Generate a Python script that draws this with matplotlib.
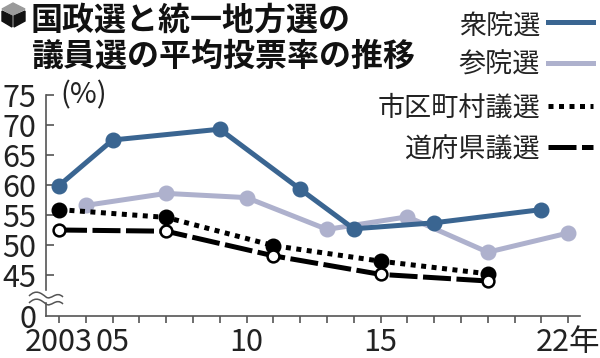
import matplotlib
matplotlib.use('Agg')
import matplotlib.pyplot as plt
from matplotlib.lines import Line2D
from matplotlib.patches import Polygon, PathPatch, Rectangle
from matplotlib.path import Path

plt.rcParams['font.family'] = ['Liberation Sans Narrow', 'Noto Sans CJK JP', 'DejaVu Sans']

W, H = 600, 358

shu_years = [2003, 2005, 2009, 2012, 2014, 2017, 2021]
shu_vals = [59.9, 67.5, 69.3, 59.3, 52.7, 53.7, 55.9]
san_years = [2004, 2007, 2010, 2013, 2016, 2019, 2022]
san_vals = [56.6, 58.6, 57.9, 52.6, 54.7, 48.8, 52.0]
local_years = [2003, 2007, 2011, 2015, 2019]
city_vals = [55.9, 54.6, 49.9, 47.3, 45.2]
pref_vals = [52.5, 52.3, 48.2, 45.1, 44.0]

y_ticks = [45, 50, 55, 60, 65, 70, 75]
x_labels = {2003: '2003', 2005: '05', 2010: '10', 2015: '15', 2022: '22年'}
all_years = list(range(2003, 2023))

BLUE = '#3a6591'
LIGHT = '#aeb1cd'
DARK = '#222222'
GREY = '#555555'
DOTS = (0, (1, 1.1))
DASH = (0, (5.6, 1.1))


def fx(x):
    return x / W


def fy(y):
    return 1 - y / H


fig = plt.figure(figsize=(6, 3.58), dpi=100)
ax = fig.add_axes([fx(46), fy(316), 534 / W, 221 / H])
ax.set_xlim(2002.515, 2022.44)
ax.set_ylim(45 - 41 / 6, 75)

ax.plot(san_years, san_vals, color=LIGHT, lw=3.6, marker='o', ms=10.5, clip_on=False, zorder=2)
ax.plot(shu_years, shu_vals, color=BLUE, lw=3.6, marker='o', ms=10.5, clip_on=False, zorder=3)
ax.plot(local_years, city_vals, color='black', lw=3.6, ls=DOTS, dash_capstyle='butt',
        marker='o', ms=10.5, clip_on=False, zorder=4)
ax.plot(local_years, pref_vals, color='black', lw=3.6, ls=DASH, dash_capstyle='butt',
        marker='o', ms=8.5, mfc='white', mec='black', mew=1.8, clip_on=False, zorder=5)

for s in ['top', 'right']:
    ax.spines[s].set_visible(False)
for s in ['left', 'bottom']:
    ax.spines[s].set_color(GREY)
    ax.spines[s].set_linewidth(1.2)

ax.set_yticks([ax.get_ylim()[0]] + y_ticks)
ax.set_yticklabels(['0'] + [str(v) for v in y_ticks])
ax.tick_params(axis='y', direction='in', length=6, width=1.2, color=GREY,
               labelsize=22, labelcolor=DARK, pad=7)
ax.set_xticks(all_years)
ax.set_xticklabels([x_labels.get(y, '') for y in all_years])
ax.tick_params(axis='x', direction='out', length=5, width=1.2, color=GREY,
               labelsize=22, labelcolor=DARK, pad=3)
ax.yaxis.get_major_ticks()[0].tick1line.set_visible(False)

fig.text(fx(60), fy(95), '(%)', fontsize=21, color=DARK, ha='left', va='center')

# break in the axis
fig.add_artist(Rectangle((fx(40), fy(301)), 12 / W, 10 / H, color='white', zorder=6))
for off in [0, 7]:
    verts = [(29, 296 + off), (36, 289 + off), (41, 293 + off), (46, 297 + off),
             (51, 301 + off), (56, 290 + off), (63, 297 + off)]
    codes = [Path.MOVETO] + [Path.CURVE4] * 6
    fig.add_artist(PathPatch(Path([(fx(a), fy(b)) for a, b in verts], codes),
                             fc='none', ec=GREY, lw=1.1, transform=fig.transFigure, zorder=7))

# cube icon
fig.add_artist(Polygon([(fx(a), fy(b)) for a, b in [(13, 3), (25, 9), (13, 15), (2, 9)]],
                       color='#9a9a9a', transform=fig.transFigure))
fig.add_artist(Polygon([(fx(a), fy(b)) for a, b in [(2, 11), (12, 16), (12, 27), (2, 21)]],
                       color='#111111', transform=fig.transFigure))
fig.add_artist(Polygon([(fx(a), fy(b)) for a, b in [(25, 11), (14, 16), (14, 27), (25, 21)]],
                       color='#111111', transform=fig.transFigure))

title_font = ['Noto Sans CJK JP', 'DejaVu Sans']
fig.text(fx(31), fy(20.5), '国政選と統一地方選の', family=title_font, weight='bold',
         fontsize=23, color='#111111', ha='left', va='center')
fig.text(fx(31), fy(56.5), '議員選の平均投票率の推移', family=title_font, weight='bold',
         fontsize=23, color='#111111', ha='left', va='center')

legend_rows = [
    ('衆院選', 27, 22, dict(color=BLUE, lw=3.6)),
    ('参院選', 65, 63, dict(color=LIGHT, lw=3.6)),
    ('市区町村議選', 108, 106, dict(color='black', lw=3.6, ls=DOTS, dash_capstyle='butt')),
    ('道府県議選', 150, 147, dict(color='black', lw=3.6, ls=DASH, dash_capstyle='butt')),
]
for name, text_y, line_y, style in legend_rows:
    fig.text(fx(540), fy(text_y), name, family=title_font, fontsize=19.5, color=DARK,
             ha='right', va='center')
    fig.add_artist(Line2D([fx(548), fx(593)], [fy(line_y), fy(line_y)],
                          transform=fig.transFigure, **style))

fig.savefig('out.png', dpi=100)
